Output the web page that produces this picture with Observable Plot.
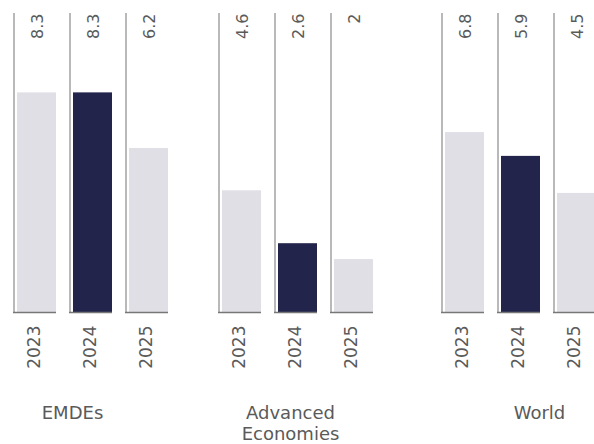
<!DOCTYPE html>
<html>
<head>
<meta charset="utf-8">
<script src="https://cdn.jsdelivr.net/npm/d3@7"></script>
<script src="https://cdn.jsdelivr.net/npm/@observablehq/plot@0.6"></script>
<style>
  html, body { margin: 0; padding: 0; background: #fff; }
  #chart { position: relative; width: 594px; height: 444px; overflow: hidden; }
  #chart svg { position: absolute; top: 0; overflow: visible; }
</style>
</head>
<body>
<div id="chart"></div>
<script>
const groups = ["EMDEs", "Advanced\nEconomies", "World"];
const years = ["2023", "2024", "2025"];
const emdesValues = [8.3, 8.3, 6.2];
const advancedValues = [4.6, 2.6, 2];
const worldValues = [6.8, 5.9, 4.5];
const highlightYear = "2024";

const seriesByGroup = [emdesValues, advancedValues, worldValues];
const yMax = 11.3;

// layout per group (left edge of each panel, offset of group label)
const panelLeft = [0, 205, 428];
const labelDx = [-25, -12, 14];

const light = "#e0dfe6";
const dark = "#22244b";
const lineColor = "#8a8a8a";
const textColor = "#5a5a5a";
const font = "DejaVu Sans, sans-serif";

const container = document.getElementById("chart");

groups.forEach((g, gi) => {
  const rows = years.map((yr, i) => ({year: yr, value: seriesByGroup[gi][i], group: g}));
  const chart = Plot.plot({
    width: 191,
    height: 444,
    marginLeft: 13,
    marginRight: 10,
    marginTop: 13,
    marginBottom: 132,
    style: {fontFamily: font, background: "transparent", overflow: "visible"},
    x: {domain: years, padding: 0, axis: null},
    y: {domain: [0, yMax], axis: null},
    marks: [
      Plot.barY(rows, {
        x: "year", y: "value",
        fill: d => d.year === highlightYear ? dark : light,
        insetLeft: 4, insetRight: 13
      }),
      Plot.ruleX(rows, {x: "year", y1: 0, y2: yMax, dx: -27.5, stroke: lineColor, strokeWidth: 1.2}),
      Plot.tickY(rows, {x: "year", y: 0, insetRight: 13, stroke: "#777", strokeWidth: 1.4}),
      Plot.text(rows, {
        x: "year", frameAnchor: "top", text: d => String(d.value),
        rotate: -90, textAnchor: "end", dx: -10,
        fontSize: 16, fill: textColor
      }),
      Plot.text(rows, {
        x: "year", y: 0, text: "year",
        rotate: -90, textAnchor: "end", dy: 13, dx: -7,
        fontSize: 17, fill: textColor
      }),
      Plot.text([g], {
        x: () => years[1], y: () => 0, text: d => d,
        dy: 91, dx: labelDx[gi], lineAnchor: "top", lineHeight: 1.2,
        fontSize: 18, fill: textColor
      })
    ]
  });
  chart.style.left = panelLeft[gi] + "px";
  container.appendChild(chart);
});
</script>
</body>
</html>
